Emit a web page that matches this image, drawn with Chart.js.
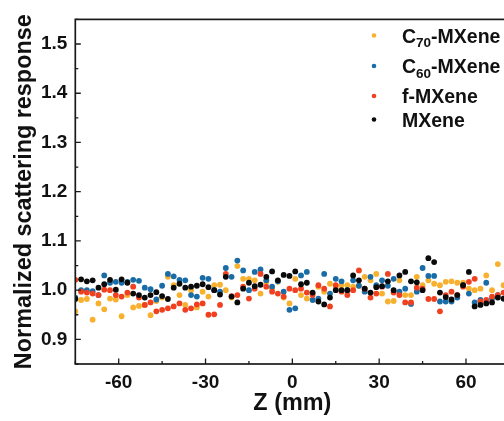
<!DOCTYPE html>
<html><head><meta charset="utf-8">
<script src="https://cdn.jsdelivr.net/npm/chart.js@4/dist/chart.umd.min.js"></script>
<style>
html,body{margin:0;padding:0;overflow:hidden;background:#fff;width:504px;height:421px}
#wrap{width:520px;height:421px}
canvas{display:block}
</style>
</head><body><div id="wrap"><canvas id="c" width="520" height="421"></canvas></div>
<script>
// Z positions (mm)
const zValues = [-75,-73,-71,-69,-67,-65,-63,-61,-59,-57,-55,-53,-51,-49,-47,-45,-43,-41,-39,-37,-35,-33,-31,-29,-27,-25,-23,-21,-19,-17,-15,-13,-11,-9,-7,-5,-3,-1,1,3,5,7,9,11,13,15,17,19,21,23,25,27,29,31,33,35,37,39,41,43,45,47,49,51,53,55,57,59,61,63,65,67,69,71,73,75];

const c70MXene = [0.957,0.980,0.982,0.940,0.973,0.961,0.983,0.981,0.947,0.990,0.965,0.968,0.970,0.949,0.978,0.985,1.027,1.010,0.990,0.970,1.000,0.965,0.997,0.987,1.010,1.011,1.000,0.985,1.049,1.023,1.023,1.020,0.993,1.017,1.003,1.017,0.985,0.973,1.023,0.990,0.983,0.993,1.007,0.997,1.013,1.005,1.010,1.010,1.007,1.009,1.027,1.020,1.033,0.993,0.977,0.978,1.020,0.990,0.990,1.027,1.010,1.020,1.013,1.010,1.017,1.018,1.015,1.015,1.003,1.000,1.003,1.030,1.000,1.053,1.010,1.000];

const c60MXene = [0.985,1.000,1.000,0.998,0.990,1.030,1.015,1.017,1.015,1.017,1.021,1.019,1.005,1.002,0.981,1.009,1.033,1.028,1.021,1.020,0.990,0.987,1.025,1.023,1.000,0.997,1.045,1.027,1.060,1.040,1.000,1.037,1.042,1.020,1.007,1.018,0.997,0.960,0.963,1.030,1.037,0.980,0.983,1.033,0.993,1.023,1.018,1.000,1.020,1.009,0.997,1.027,1.010,1.020,1.009,1.023,0.997,1.003,0.972,0.997,1.045,1.029,1.029,0.977,0.977,0.977,0.985,1.010,0.993,0.975,0.980,1.015,0.983,0.990,0.983,0.990];

const fMXene = [1.021,0.997,0.995,0.993,0.990,1.001,1.000,0.990,0.987,0.995,1.007,0.985,0.970,0.975,0.957,0.960,0.963,0.967,0.973,0.960,0.963,0.971,0.973,0.950,0.951,0.970,1.033,0.988,0.990,1.007,0.983,1.003,1.033,1.007,0.997,0.993,0.987,1.003,1.000,1.003,0.995,0.990,1.010,1.003,0.967,1.010,0.997,0.990,1.000,1.040,1.003,0.985,0.993,1.007,1.033,0.995,0.990,0.975,0.975,1.005,1.003,0.982,0.982,0.957,0.990,0.997,0.990,1.007,1.017,1.023,0.977,0.980,0.987,0.990,0.995,0.990];

const mxene = [0.982,1.022,1.018,1.020,1.005,1.012,1.021,1.001,1.022,1.015,0.993,0.990,0.985,0.990,0.996,0.988,0.982,1.005,1.013,1.005,1.007,1.009,1.012,1.006,1.000,0.991,1.027,0.987,0.975,1.003,1.015,1.008,1.011,1.027,1.038,1.020,1.031,1.029,1.038,1.012,1.015,0.995,0.977,0.971,0.985,1.000,1.000,1.000,1.030,1.020,1.003,0.995,1.006,1.008,1.018,1.000,1.030,1.037,1.018,1.016,1.000,1.065,1.057,0.995,0.986,0.981,0.990,1.010,1.037,0.967,0.970,0.973,0.975,0.985,0.983,0.990];

const seriesNames = ['C70-MXene','C60-MXene','f-MXene','MXene'];
const seriesColors = ['#F7B12E','#1A6CA6','#F1401F','#0a0a0a'];
const seriesData = [c70MXene, c60MXene, fMXene, mxene];

const xMajorTicks = [-60,-30,0,30,60];
const xMinorTicks = [-75,-45,-15,15,45,75];
const yMajorTicks = [0.9,1.0,1.1,1.2,1.3,1.4,1.5];
const yMinorTicks = [0.85,0.95,1.05,1.15,1.25,1.35,1.45,1.55];

const FONT = "'Liberation Sans', Arial, sans-serif";
const TXT = '#111';

const framePlugin = {
  id: 'frame',
  afterDatasetsDraw(chart) {
    const {ctx, chartArea: a, scales: {x, y}} = chart;
    ctx.save();
    ctx.strokeStyle = '#1a1a1a';
    ctx.lineWidth = 1.7;
    ctx.strokeRect(a.left, a.top, a.right - a.left, a.bottom - a.top);
    ctx.lineWidth = 1.3;
    ctx.beginPath();
    xMajorTicks.forEach(v => { const p = x.getPixelForValue(v); ctx.moveTo(p, a.bottom); ctx.lineTo(p, a.bottom - 5.5); });
    xMinorTicks.forEach(v => { const p = x.getPixelForValue(v); ctx.moveTo(p, a.bottom); ctx.lineTo(p, a.bottom - 3); });
    yMajorTicks.forEach(v => { const p = y.getPixelForValue(v); ctx.moveTo(a.left, p); ctx.lineTo(a.left + 5.5, p); });
    yMinorTicks.forEach(v => { const p = y.getPixelForValue(v); ctx.moveTo(a.left, p); ctx.lineTo(a.left + 3, p); });
    ctx.stroke();
    ctx.restore();
  }
};

const legendPlugin = {
  id: 'customLegend',
  afterDraw(chart) {
    const ctx = chart.ctx;
    const rowY = [35.5, 66, 96, 119.5];
    const dotX = 374, textX = 402;
    ctx.save();
    seriesNames.forEach((name, i) => {
      const yy = rowY[i];
      ctx.fillStyle = seriesColors[i];
      ctx.beginPath(); ctx.arc(dotX, yy, 2.3, 0, Math.PI * 2); ctx.fill();
      ctx.fillStyle = TXT;
      ctx.textBaseline = 'alphabetic';
      const base = yy + 7;
      const m = name.match(/^C(\d+)(.*)$/);
      let cx = textX;
      ctx.font = 'bold 19.5px ' + FONT;
      if (m) {
        ctx.fillText('C', cx, base); cx += ctx.measureText('C').width;
        ctx.font = 'bold 13.5px ' + FONT;
        ctx.fillText(m[1], cx, base + 4.5); cx += ctx.measureText(m[1]).width;
        ctx.font = 'bold 19.5px ' + FONT;
        ctx.fillText(m[2], cx, base);
      } else {
        ctx.fillText(name, cx, base);
      }
    });
    ctx.restore();
  }
};

const datasets = seriesNames.map((name, i) => ({
  label: name,
  data: zValues.map((z, k) => ({x: z, y: seriesData[i][k]})),
  backgroundColor: seriesColors[i],
  borderColor: seriesColors[i],
  borderWidth: 0,
  pointRadius: 2.9,
  pointHoverRadius: 2.9,
  showLine: false,
  clip: 0,
  order: 3 - i
}));

new Chart(document.getElementById('c'), {
  type: 'scatter',
  data: {datasets},
  options: {
    responsive: false,
    animation: false,
    devicePixelRatio: 1,
    layout: {padding: {top: 15, right: 10.6, left: 0, bottom: 0}},
    plugins: {legend: {display: false}, tooltip: {enabled: false}},
    scales: {
      x: {
        type: 'linear', min: -75, max: 75,
        grid: {display: false, drawTicks: false}, border: {display: false},
        afterBuildTicks: s => { s.ticks = xMajorTicks.map(v => ({value: v})); },
        afterFit: s => { s.height = 57; },
        ticks: {font: {family: FONT, size: 19, weight: 'bold'}, color: TXT, padding: 7, callback: v => String(v), maxRotation: 0, autoSkip: false},
        title: {display: true, text: 'Z (mm)', color: TXT, font: {family: FONT, size: 23.4, weight: 'bold'}, padding: {top: 0, bottom: 3}}
      },
      y: {
        type: 'linear', min: 0.85, max: 1.55,
        grid: {display: false, drawTicks: false}, border: {display: false},
        afterBuildTicks: s => { s.ticks = yMajorTicks.map(v => ({value: v})); },
        afterFit: s => { s.width = 75.3; },
        ticks: {font: {family: FONT, size: 19, weight: 'bold'}, color: TXT, padding: 8, callback: v => Number(v).toFixed(1), autoSkip: false},
        title: {display: true, text: 'Normalized scattering response', color: TXT, font: {family: FONT, size: 23.4, weight: 'bold'}, padding: {top: 11, bottom: 0}}
      }
    }
  },
  plugins: [framePlugin, legendPlugin]
});
</script>
</body></html>
